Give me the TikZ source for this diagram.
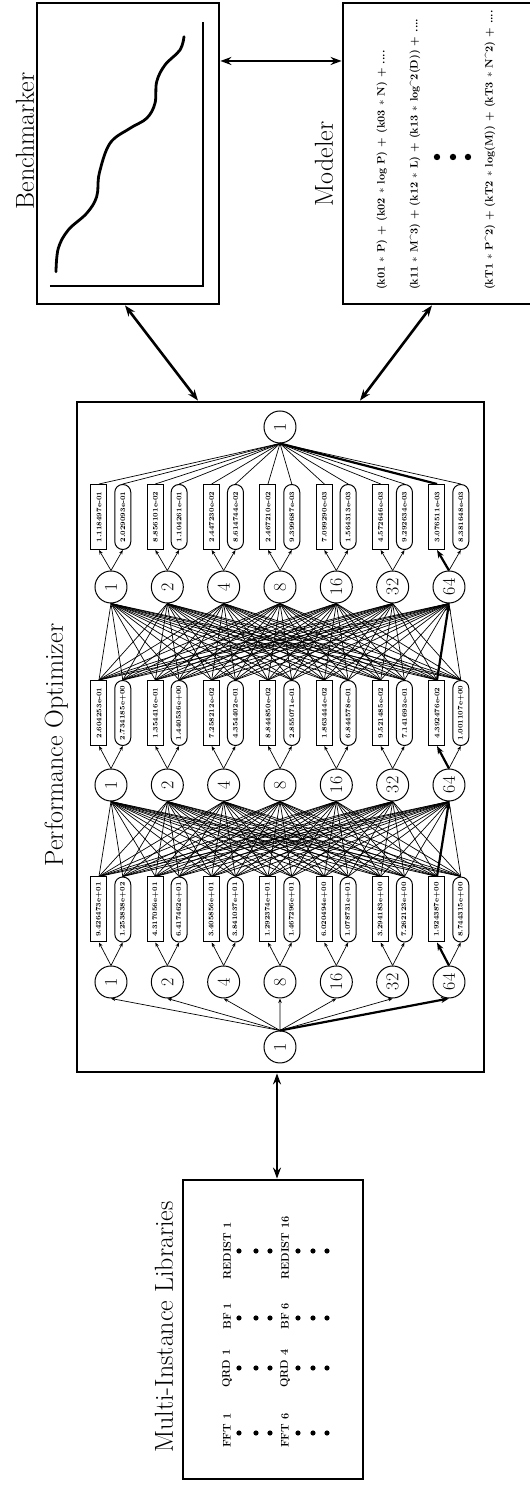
\documentclass[tikz,border=0pt]{standalone}
\usetikzlibrary{arrows.meta,calc}
\begin{document}
\begin{tikzpicture}[x=1pt,y=1pt,rotate=90,transform shape,
  bigbox/.style={draw,line width=2.8pt,inner sep=0pt},
  ttl/.style={font=\fontsize{26}{30}\selectfont,anchor=base,inner sep=0pt},
  cnode/.style={draw,circle,line width=1pt,minimum size=32pt,inner sep=0pt,font=\fontsize{18}{20}\selectfont},
  rbox/.style={draw,rectangle,line width=1pt,minimum width=65pt,minimum height=16pt,inner sep=0pt,font=\fontsize{7}{8}\bfseries\selectfont},
  obox/.style={rbox,rounded corners=7.9pt},
  thinln/.style={line width=0.7pt},
  arln/.style={line width=0.7pt,-{Stealth[length=4.5pt,width=3.5pt]}},
  hotln/.style={line width=2.2pt,-{Stealth[length=8pt,width=6pt]}},
  dbl/.style={line width=2.6pt,{Stealth[length=11pt,width=8pt]}-{Stealth[length=11pt,width=8pt]}},
  libtxt/.style={font=\fontsize{11}{12}\bfseries\selectfont,anchor=west,inner sep=0pt},
  modtxt/.style={font=\fontsize{10.7}{12}\bfseries\selectfont,anchor=west,inner sep=0pt},
]
\useasboundingbox (0,0) rectangle (1486,530);

% ---------- big boxes ----------
\node[bigbox,minimum width=299pt,minimum height=180pt] (lib) at (156.5,257) {};
\node[bigbox,minimum width=670pt,minimum height=407pt] (opt) at (749,249.5) {};
\node[bigbox,minimum width=301pt,minimum height=182pt] (bench) at (1332.5,402) {};
\node[bigbox,minimum width=301pt,minimum height=218pt] (model) at (1332.5,78) {};

% ---------- titles ----------
\node[ttl] (libt) at (159,357) {Multi-Instance Libraries};
\node[ttl] (optt) at (741,467) {Performance Optimizer};
\node[ttl] (bencht) at (1345,496) {Benchmarker};
\node[ttl] (modelt) at (1322,197) {Modeler};

% ---------- libraries ----------
\node[libtxt] (f1) at (38,303) {FFT 1};
\node[libtxt] (f6) at (38,245) {FFT 6};
\node[libtxt] (q1) at (98,303) {QRD 1};
\node[libtxt] (q4) at (98,245) {QRD 4};
\node[libtxt] (b1) at (156,303) {BF 1};
\node[libtxt] (b6) at (156,245) {BF 6};
\node[libtxt] (r1) at (206,303) {REDIST 1};
\node[libtxt] (r16) at (206,245) {REDIST 16};
\foreach \cx in {53,118,168,235}{
  \foreach \cy in {291,274,260,232,217,203}{
    \fill (\cx,\cy) circle (2.6);
  }
}

% ---------- benchmarker ----------
\draw[line width=2.8pt] (1200,480) -- (1200,327) -- (1464,327);
\draw[line width=2.8pt,line cap=round] plot[smooth,tension=0.6] coordinates {
 (1214.3,474) (1237.7,471.7) (1256,461.7) (1272.7,443.3) (1289.3,433.3)
 (1312.7,430.7) (1342.7,420) (1357.7,400) (1367.7,383.3) (1382.7,375)
 (1404.3,373.3) (1421,365) (1436,350) (1449.3,346)};

% ---------- modeler ----------
\node[modtxt] (m1) at (1196,148) {(k01 $\ast$ P) + (k02 $\ast$ log P) + (k03 $\ast$ N) + ....};
\node[modtxt] (m2) at (1196,115) {(k11 $\ast$ M\textasciicircum3) + (k12 $\ast$ L) + (k13 $\ast$ log\textasciicircum2(D)) + ....};
\node[modtxt] (m3) at (1196,40) {(kT1 $\ast$ P\textasciicircum2) + (kT2 $\ast$ log(M)) + (kT3 $\ast$ N\textasciicircum2) + ....};
\foreach \cy in {93,77,62}{ \fill (1329,\cy) circle (3.2); }

% ---------- network nodes ----------
\node[cnode] (root) at (439,250) {1};
\node[cnode] (top) at (1059,250) {1};
\foreach \L/\cx in {A/504,B/701,C/899}{
  \foreach \lab [count=\k] in {1,2,4,8,16,32,64}{
    \pgfmathsetmacro\cy{419-56.333*(\k-1)}
    \node[cnode] (\L\k) at (\cx,\cy) {\lab};
  }
}
\def\boxrow#1#2#3{%
  \foreach \k/\ra/\oa in {#3}{
    \pgfmathsetmacro\ry{419-56.333*(\k-1)+12}
    \pgfmathsetmacro\oy{419-56.333*(\k-1)-11.8}
    \node[rbox] (rect#1\k) at (#2,\ry) {\ra};
    \node[obox] (rnd#1\k) at (#2,\oy) {\oa};
  }}
\boxrow{A}{576.5}{1/9.426473e+01/1.253838e+02, 2/4.317056e+01/6.417462e+01, 3/3.405856e+01/3.841037e+01, 4/1.292374e+01/1.467296e+01, 5/6.020494e+00/1.078731e+01, 6/3.294183e+00/7.262123e+00, 7/1.924387e+00/8.744315e+00}
\boxrow{B}{773}{1/2.604253e-01/2.734185e+00, 2/1.354416e-01/1.440536e+00, 3/7.258212e-02/4.354402e-01, 4/8.844850e-02/2.855071e-01, 5/1.863444e-02/6.844578e-01, 6/9.521485e-02/7.141693e-01, 7/4.392476e-02/1.001107e+00}
\boxrow{C}{969}{1/1.118497e-01/2.029093e-01, 2/8.856101e-02/1.104261e-01, 3/2.447230e-02/8.614744e-02, 4/2.467210e-02/9.399687e-03, 5/7.099290e-03/1.564313e-03, 6/4.572646e-03/9.292634e-03, 7/3.076511e-03/8.381648e-03}

% ---------- network edges ----------
\foreach \k in {1,...,6}{ \draw[arln] (root.east) -- (A\k.west); }
\foreach \L in {A,B,C}{
  \foreach \k in {1,...,6}{
    \draw[arln] (\L\k.east) -- (rect\L\k.west);
    \draw[arln] (\L\k.east) -- (rnd\L\k.west);
  }
  \draw[arln] (\L7.east) -- (rnd\L7.west);
}
\foreach \L/\N in {A/B,B/C}{
  \foreach \k in {1,...,7}{
    \foreach \j in {1,...,7}{
      \draw[thinln] (rect\L\k.east) -- (\N\j.west);
      \draw[thinln] (rnd\L\k.east) -- (\N\j.west);
    }
  }
}
\foreach \k in {1,...,7}{
  \draw[thinln] (rectC\k.east) -- (top.west);
  \draw[thinln] (rndC\k.east) -- (top.west);
}
% optimal path
\draw[hotln] (root.east) -- (A7.west);
\draw[hotln] (A7.east) -- (rectA7.west);
\draw[hotln] (rectA7.east) -- (B7.west);
\draw[hotln] (B7.east) -- (rectB7.west);
\draw[hotln] (rectB7.east) -- (C7.west);
\draw[hotln] (C7.east) -- (rectC7.west);
\draw[line width=2.2pt] (rectC7.east) -- (top.west);

% ---------- connectors between components ----------
\draw[dbl] ([yshift=-4pt]lib.east) -- ([yshift=-4pt]lib.east -| opt.west);
\draw[dbl] ([yshift=82.5pt]opt.east) -- ([yshift=3pt]bench.west);
\draw[dbl] ([yshift=-79.5pt]opt.east) -- ([yshift=20pt]model.west);
\draw[dbl] ([xshift=92.5pt]bench.south) -- ([xshift=92.5pt]bench.south |- model.north);
\end{tikzpicture}
\end{document}
